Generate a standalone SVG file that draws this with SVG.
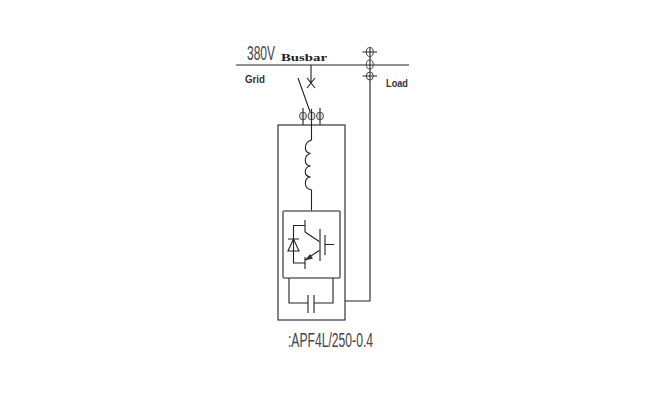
<svg xmlns="http://www.w3.org/2000/svg" width="649" height="401" viewBox="0 0 649 401">
<style>
.l{fill:none;stroke:#222;stroke-width:1.1}
.g{fill:none;stroke:#666;stroke-width:1.6}
.c{fill:#ddd;stroke:#555;stroke-width:1}
.o{fill:none;stroke:#444;stroke-width:1}
.s{font-family:"Liberation Sans",sans-serif;font-weight:bold;font-size:10px;fill:#333}
.n{font-family:"Liberation Sans",sans-serif;font-size:20px;fill:#444}
</style>
<rect width="649" height="401" fill="#fff"/>
<g id="connectors">
<path class="l" d="M236 65H409"/>
<path class="l" d="M311 65V83M307 78L315 88M315 78L307 88"/>
<path class="l" d="M298 78L310.500 113"/>
<path class="l" d="M303 108V125M320 108V125"/>
<path class="l" d="M311.500 109V140C304 142 303 152 310.500 153.500C304 155 303 165 310.500 166C304 167 303 176 310.500 177C304 178 303 188 311.500 190V211"/>
<path class="l" d="M370 47V301H345"/>
<path class="l" d="M362.500 52H377M362.500 76H377"/>
</g>
<g id="terminals">
<ellipse class="c" cx="303" cy="116" rx="3.500" ry="4"/>
<ellipse class="c" cx="311.500" cy="116" rx="3.500" ry="4"/>
<ellipse class="c" cx="320" cy="116" rx="3.500" ry="4"/>
<path class="l" d="M303 112V120M311.500 112V120M320 112V120"/>
<ellipse class="o" cx="369.800" cy="52" rx="3.500" ry="4.500"/>
<ellipse class="o" cx="369.800" cy="64.500" rx="3.500" ry="4.500"/>
<ellipse class="o" cx="369.800" cy="76" rx="3.500" ry="4"/>
</g>
<g id="cabinet"><rect class="l" x="278" y="125" width="67" height="195"/></g>
<g id="converter">
<rect class="g" x="283" y="211" width="57" height="67" rx="1"/>
<path class="l" d="M305 220V232M305 225.500H293.500V263H305M305 257V269M305 232L320 242M320 250L305 260"/>
<path class="g" d="M320 229V261"/>
<path class="l" d="M325 235V255M325 244.500H334"/>
<path class="l" d="M288 239H299M293.500 239L288 251H299Z"/>
<path fill="#333" d="M305 260.500L310 254L313 258.500Z"/>
</g>
<g id="capacitor">
<path class="l" d="M289 278V303H308M314 303H333V278"/>
<path class="l" d="M308 295V313M314 295V313"/>
</g>
<g id="labels">
<text class="n" transform="translate(247 60) scale(.6 1)">380V</text>
<text x="281" y="61" textLength="46" lengthAdjust="spacingAndGlyphs" font-family="Liberation Serif,serif" font-weight="bold" font-size="10.500px" fill="#222">Busbar</text>
<text class="s" x="245" y="83" textLength="20" lengthAdjust="spacingAndGlyphs">Grid</text>
<text class="s" x="386" y="86.500" textLength="22" lengthAdjust="spacingAndGlyphs">Load</text>
<text class="n" x="288" y="347" textLength="85" lengthAdjust="spacingAndGlyphs">:APF4L/250-0.4</text>
</g>
</svg>
